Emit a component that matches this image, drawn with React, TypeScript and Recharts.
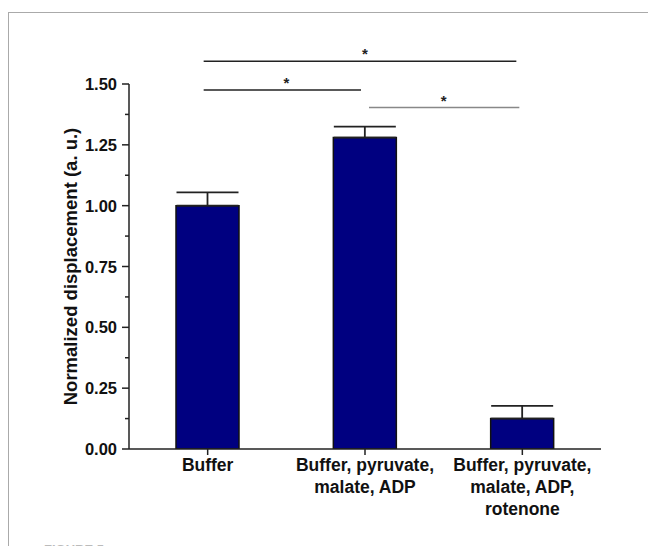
import { BarChart, Bar, XAxis, YAxis, ErrorBar, ReferenceLine } from 'recharts';

const categories = ['Buffer', 'Buffer, pyruvate,\nmalate, ADP', 'Buffer, pyruvate,\nmalate, ADP,\nrotenone'];
const means = [1.0, 1.28, 0.125];
const errors = [0.055, 0.045, 0.052];
const yTicks = [0, 0.125, 0.25, 0.375, 0.5, 0.625, 0.75, 0.875, 1.0, 1.125, 1.25, 1.375, 1.5];
const majorTicks = [0, 0.25, 0.5, 0.75, 1.0, 1.25, 1.5];

// significance brackets: from / to category index, height in axis units
const bracketFrom = [0, 0, 1];
const bracketTo = [2, 1, 2];
const bracketLevel = [1.593, 1.475, 1.403];
const bracketColor = ['#222', '#222', '#888'];
// small pixel nudges so the bracket ends sit where the original ones do
const bracketStartNudge = [-4, -4, 4];
const bracketEndNudge = [-6, -4, -3];

const data = categories.map((name, i) => ({ name, value: means[i], err: [0, errors[i]] }));

const FONT = '"Liberation Sans", Arial, sans-serif';

function YTick(props: any) {
  const { x, y, payload } = props;
  const axisX = x + 12;
  const major = majorTicks.some((t) => Math.abs(t - payload.value) < 1e-6);
  return (
    <g>
      <line x1={axisX - (major ? 7 : 4)} x2={axisX} y1={y} y2={y} stroke="#222" strokeWidth={1.5} />
      {major && (
        <text x={x} y={y} dy={6} textAnchor="end" fontFamily={FONT} fontWeight="bold" fontSize={16.5} fill="#111">
          {payload.value.toFixed(2)}
        </text>
      )}
    </g>
  );
}

function XTick(props: any) {
  const { x, y, payload } = props;
  const lines = String(payload.value).split('\n');
  return (
    <text x={x} y={y} textAnchor="middle" fontFamily={FONT} fontWeight="bold" fontSize={17.5} fill="#111">
      {lines.map((l, i) => (
        <tspan key={i} x={x} dy={i === 0 ? 14 : 22}>
          {l}
        </tspan>
      ))}
    </text>
  );
}

function YLabel(props: any) {
  const { viewBox } = props;
  const cx = 70;
  const cy = viewBox.y + viewBox.height / 2;
  return (
    <text
      x={cx}
      y={cy}
      transform={`rotate(-90 ${cx} ${cy})`}
      textAnchor="middle"
      dominantBaseline="central"
      fontFamily={FONT}
      fontWeight="bold"
      fontSize={18.5}
      fill="#111"
    >
      Normalized displacement (a. u.)
    </text>
  );
}

export default function App() {
  return (
    <div style={{ position: 'fixed', left: 0, top: 0, width: 648, height: 546, overflow: 'hidden', background: '#fff' }}>
      <div style={{ position: 'absolute', left: 8, top: 12, right: 0, height: 0, borderTop: '1.5px solid #aaa' }} />
      <div style={{ position: 'absolute', left: 8, top: 12, bottom: 0, width: 0, borderLeft: '1.5px solid #aaa' }} />
      <div
        style={{
          position: 'absolute',
          left: 44,
          top: 543,
          fontFamily: FONT,
          fontWeight: 'bold',
          fontSize: 13,
          lineHeight: 1,
          color: '#bbb',
        }}
      >
        FIGURE 5
      </div>
      <div style={{ position: 'absolute', left: 0, top: 0 }}>
        <BarChart width={648} height={546} data={data} margin={{ top: 84, right: 47, left: 0, bottom: 7 }} barCategoryGap={0}>
          <XAxis
            dataKey="name"
            height={90}
            interval={0}
            tickSize={6}
            tickLine={{ stroke: '#222', strokeWidth: 1.5 }}
            axisLine={{ stroke: '#222', strokeWidth: 1.5 }}
            tick={<XTick />}
          />
          <YAxis
            width={129}
            domain={[0, 1.5]}
            ticks={yTicks}
            interval={0}
            allowDataOverflow
            tickSize={7}
            tickMargin={5}
            tickLine={false}
            axisLine={{ stroke: '#222', strokeWidth: 1.5 }}
            tick={<YTick />}
            label={<YLabel />}
          />
          <Bar dataKey="value" fill="#000080" stroke="#111" strokeWidth={1.5} barSize={63} isAnimationActive={false}>
            <ErrorBar dataKey="err" width={31} stroke="#222" strokeWidth={1.8} direction="y" />
          </Bar>
          {bracketLevel.map((lvl, i) => (
            <ReferenceLine
              key={i}
              ifOverflow="visible"
              segment={[
                { x: categories[bracketFrom[i]], y: lvl },
                { x: categories[bracketTo[i]], y: lvl },
              ]}
              stroke={bracketColor[i]}
              strokeWidth={1.5}
              shape={(p: any) => (
                <line
                  x1={p.x1 + bracketStartNudge[i]}
                  x2={p.x2 + bracketEndNudge[i]}
                  y1={p.y1}
                  y2={p.y2}
                  stroke={bracketColor[i]}
                  strokeWidth={1.5}
                />
              )}
              label={{ value: '*', position: 'top', offset: 2, fontFamily: FONT, fontWeight: 'bold', fontSize: 15, fill: '#222' }}
            />
          ))}
        </BarChart>
      </div>
    </div>
  );
}
